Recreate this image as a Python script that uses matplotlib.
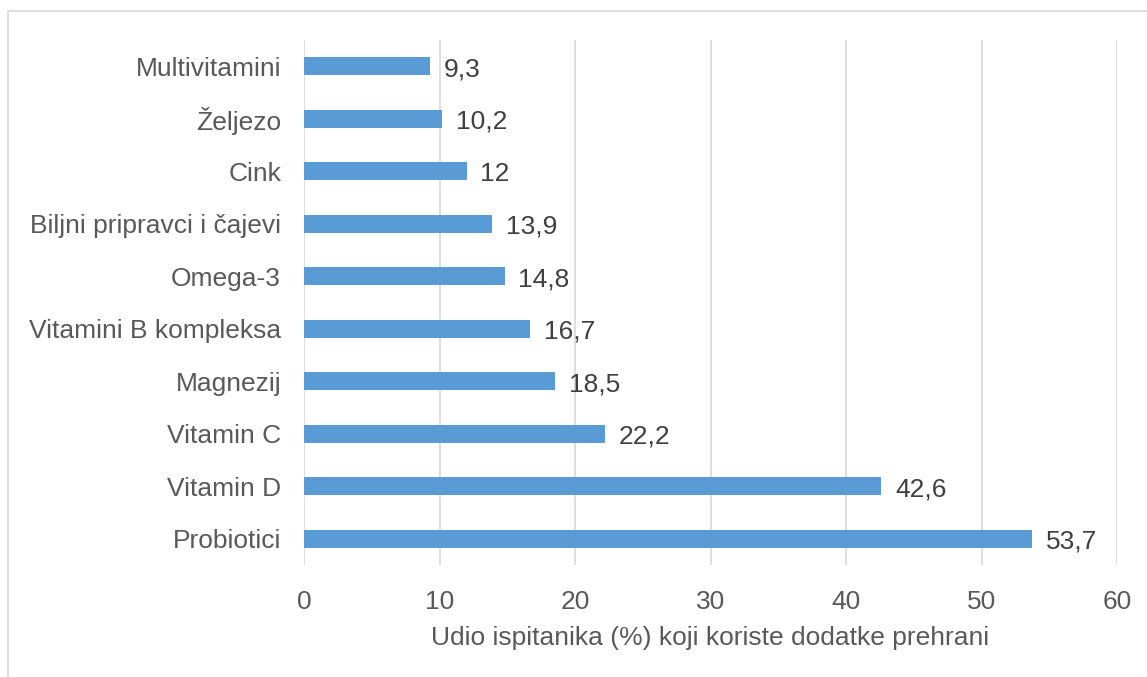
import matplotlib
matplotlib.use("Agg")
import matplotlib.pyplot as plt
from matplotlib.patches import Rectangle

categories = ["Probiotici", "Vitamin D", "Vitamin C", "Magnezij",
              "Vitamini B kompleksa", "Omega-3", "Biljni pripravci i čajevi",
              "Cink", "Željezo", "Multivitamini"]
values = [53.7, 42.6, 22.2, 18.5, 16.7, 14.8, 13.9, 12, 10.2, 9.3]
labels = ["53,7", "42,6", "22,2", "18,5", "16,7", "14,8", "13,9", "12", "10,2", "9,3"]
xticks = [0, 10, 20, 30, 40, 50, 60]

plt.rcParams['font.family'] = ['Liberation Sans', 'DejaVu Sans']
txt = '#595959'
fs = 19

fig = plt.figure(figsize=(11.47, 6.77), dpi=100)
ax = fig.add_axes([304/1147, 1-565/677, (1117-304)/1147, (565-40)/677])

# outer chart border
fig.patches.append(Rectangle((8/1147, -0.05), 1.2, 1 - 11/677 + 0.05,
                             transform=fig.transFigure, fill=False,
                             edgecolor='#D9D9D9', linewidth=1.2))

ypos = list(range(len(categories)))
ax.barh(ypos, values, height=0.34, color='#5B9BD5', zorder=3)
for y, v, l in zip(ypos, values, labels):
    ax.annotate(l, (v, y), xytext=(10, -2), textcoords='offset points',
                va='center', ha='left', fontsize=fs, color='#404040')

ax.set_xlim(0, 60)
ax.set_ylim(-0.5, 9.5)
ax.set_xticks(xticks)
ax.set_yticks(ypos)
ax.set_yticklabels(categories)
ax.tick_params(axis='both', length=0, labelsize=fs, colors=txt)
ax.tick_params(axis='y', pad=16.5)
ax.tick_params(axis='x', pad=18)
ax.grid(axis='x', color='#D9D9D9', linewidth=1.2, zorder=0)
for s in ax.spines.values():
    s.set_visible(False)
ax.set_xlabel("Udio ispitanika (%) koji koriste dodatke prehrani",
              fontsize=fs, color=txt, labelpad=9)

fig.savefig("out.png", dpi=100)
